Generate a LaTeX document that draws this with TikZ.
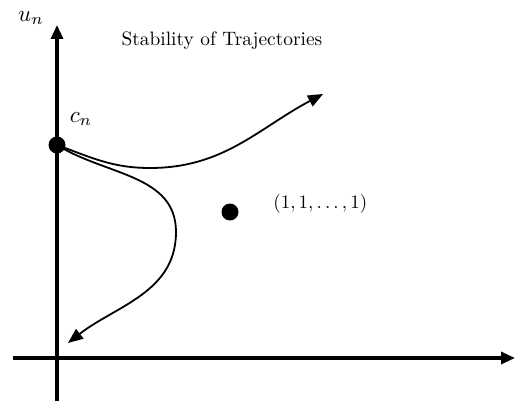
\documentclass[tikz,border=0pt]{standalone}
\usepackage{amsmath}
\usepackage{tikz}
\usetikzlibrary{arrows.meta,calc,positioning}
\tikzset{
  axisline/.style={-{Triangle[length=14pt,width=12pt]}, line width=3.3pt, draw=black},
  trajline/.style={-{Triangle[length=15pt,width=12pt]}, line width=1.8pt, draw=black},
  fixdot/.style={circle, fill=black, inner sep=0pt, minimum size=17pt},
  mathlabel/.style={inner sep=0pt, scale=1.9},
  axislabel/.style={inner sep=0pt, scale=2.3},
  titlenote/.style={inner sep=0pt, scale=1.94}
}

\begin{document}
\begin{tikzpicture}[x=1pt,y=-1pt]
  \useasboundingbox (0,0) rectangle (515,404);
  % axes
  \coordinate (ybot) at (57,401);
  \coordinate (ytop) at (57,25);
  \coordinate (xleft) at (13,358);
  \coordinate (xright) at (515,358);
  \draw[axisline] (ybot) -- (ytop);
  \draw[axisline] (xleft) -- (xright);
  \node[axislabel] (un) at (31,18) {$u_n$};
  \node[titlenote] (title) at (222,41) {Stability of Trajectories};
  % points
  \node[fixdot] (cn) at (57,145) {};
  \node[axislabel] (cnlabel) at (81,119) {$c_n$};
  \node[fixdot] (ones) at (230,212) {};
  \node[mathlabel, anchor=west] (oneslabel) at (273,204) {$(1,1,\ldots,1)$};
  % trajectories
  \coordinate (upmin) at (150,168);
  \coordinate (uptip) at (323,94);
  \coordinate (turn) at (176,232);
  \coordinate (lowtip) at (68,343);
  \draw[trajline] (cn.center) to[out=-20,in=180] (upmin) to[out=0,in=208] (uptip);
  \draw[trajline] (cn.center) to[out=-32,in=90] (turn) to[out=-90,in=38] (lowtip);
\end{tikzpicture}
\end{document}
